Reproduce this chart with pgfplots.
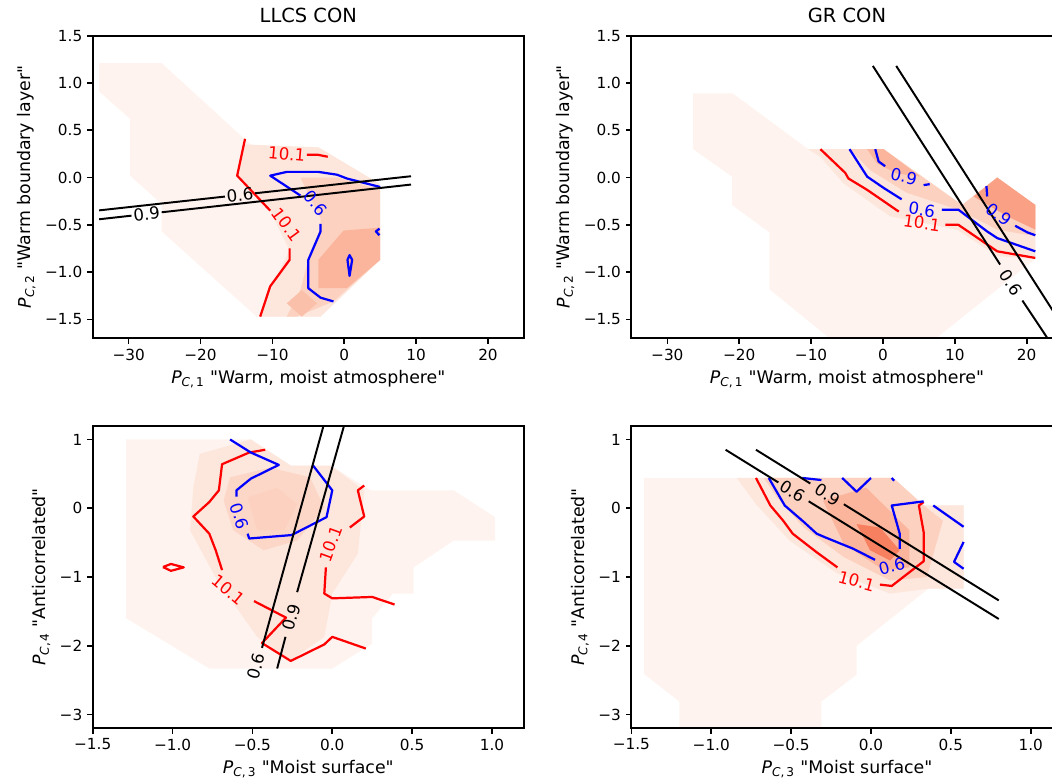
\documentclass[border=0pt]{standalone}
\usepackage{fontspec}
\setmainfont{DejaVu Sans}[Ligatures=TeXOff]
\usepackage{pgfplots}
\pgfplotsset{compat=1.18}

\definecolor{fa}{HTML}{FEF3EE}
\definecolor{fb}{HTML}{FDE6DB}
\definecolor{fc}{HTML}{FCD1BF}
\definecolor{fd}{HTML}{FBB59C}
\definecolor{fe}{HTML}{F9A085}
\definecolor{ff}{HTML}{F6805F}

\pgfplotsset{
  panel/.style={
    scale only axis, width=310.5pt, height=217.9pt, anchor=north west,
    axis on top, clip=true, enlargelimits=false,
    axis line style={line width=1.3pt},
    every tick/.style={line width=1.2pt, black},
    major tick length=4pt, tick align=outside, tick pos=left,
    ticklabel style={font=\fontsize{11}{13}\selectfont},
    label style={font=\fontsize{12.5}{15}\selectfont},
    title style={font=\fontsize{14}{17}\selectfont},
    /pgf/number format/assume math mode=true,
  },
  top/.style={
    xmin=-35, xmax=25, ymin=-1.7, ymax=1.5,
    xtick={-30,-20,-10,0,10,20}, xticklabels={−30,−20,−10,0,10,20},
    ytick={-1.5,-1,-0.5,0,0.5,1,1.5},
    yticklabels={−1.5,−1.0,−0.5,0.0,0.5,1.0,1.5},
    xlabel={\textit{P}\textsubscript{\textit{C},\,1} "Warm, moist atmosphere"},
    ylabel={\textit{P}\textsubscript{\textit{C},\,2} "Warm boundary layer"},
  },
  bot/.style={
    xmin=-1.5, xmax=1.2, ymin=-3.2, ymax=1.2,
    xtick={-1.5,-1,-0.5,0,0.5,1}, xticklabels={−1.5,−1.0,−0.5,0.0,0.5,1.0},
    ytick={-3,-2,-1,0,1}, yticklabels={−3,−2,−1,0,1},
    xlabel={\textit{P}\textsubscript{\textit{C},\,3} "Moist surface"},
    ylabel={\textit{P}\textsubscript{\textit{C},\,4} "Anticorrelated"},
  },
  cont/.style={line width=1.6pt, no markers, line join=round},
  blk/.style={line width=1.4pt, black, no markers},
}
\tikzset{lab/.style={font=\fontsize{12}{14}\selectfont, inner sep=0pt}}

\begin{document}
\begin{tikzpicture}

% ---- LLCS, PC1/PC2
\begin{axis}[panel, top, at={(66.74pt,-25.70pt)}, title={LLCS CON}]
\addplot[fill=fa, draw=none] coordinates {(-34.1,1.21) (-25.4,1.21) (-12.6,0.32) (-3.6,0.32) (5.0,-0.07) (5.0,-0.87) (-3.3,-1.47) (-12.2,-1.47) (-25.4,-0.57) (-25.4,-0.28) (-29.8,0.02) (-29.8,0.62) (-34.1,0.91)};
\addplot[fill=fb, draw=none] coordinates {(-13.8,0.35) (-3.6,0.32) (5.0,-0.07) (5.0,-0.87) (-3.3,-1.47) (-11.7,-1.47) (-9.4,-1.05) (-7.6,-0.77) (-10.3,-0.35) (-14.9,0.02)};
\addplot[fill=fc, draw=none] coordinates {(-6.1,0.0) (-1.0,0.0) (5.0,-0.13) (5.0,-0.87) (-1.5,-1.31) (-6.6,-1.47) (-8.0,-1.47) (-6.1,-1.19) (-5.0,-0.87) (-3.3,-0.54) (-3.3,-0.43)};
\addplot[fill=fd, draw=none] coordinates {(-3.6,-0.87) (-0.1,-0.56) (5.0,-0.53) (5.0,-0.87) (0.37,-1.17) (-3.6,-1.17)};
\addplot[fill=fd!60!fc, draw=none] coordinates {(-8.0,-1.33) (-5.9,-1.19) (-3.8,-1.33) (-5.9,-1.47)};
% contours
\addplot[red, cont] coordinates {(-13.8,0.41) (-14.9,0.02) (-10.3,-0.35)};
\addplot[red, cont] coordinates {(-7.6,-0.75) (-7.6,-0.87) (-10.3,-1.15) (-11.7,-1.47)};
\addplot[red, cont] coordinates {(-5.2,0.24) (-3.6,0.24) (-2.3,0.22)};
\addplot[blue, cont] coordinates {(5.0,-0.10) (0.37,-0.01) (-1.0,0.03) (-3.6,0.06) (-8.0,0.06) (-10.3,0.02) (-6.1,-0.19)};
\addplot[blue, cont] coordinates {(-3.3,-0.49) (-3.3,-0.57) (-5.0,-0.87) (-5.0,-1.17) (-3.3,-1.27) (-1.5,-1.31)};
\addplot[blue, cont] coordinates {(0.45,-0.87) (0.74,-0.82) (1.1,-0.87) (0.74,-1.04) (0.45,-0.87)};
\addplot[blue, cont] coordinates {(4.9,-0.54) (4.4,-0.57) (4.9,-0.61)};
% black lines
\addplot[blk] coordinates {(-34.1,-0.347) (-16.6,-0.201)};
\addplot[blk] coordinates {(-12.4,-0.166) (9.29,0.014)};
\addplot[blk] coordinates {(-34.1,-0.441) (-29.6,-0.403)};
\addplot[blk] coordinates {(-25.4,-0.367) (9.29,-0.074)};
\node[lab, red, rotate=-5] at (axis cs:-8.0,0.25) {10.1};
\node[lab, red, rotate=-54] at (axis cs:-8.0,-0.50) {10.1};
\node[lab, blue, rotate=-50] at (axis cs:-4.0,-0.27) {0.6};
\node[lab, rotate=6] at (axis cs:-14.5,-0.184) {0.6};
\node[lab, rotate=6] at (axis cs:-27.5,-0.385) {0.9};
\end{axis}

% ---- GR, PC1/PC2
\begin{axis}[panel, top, at={(454.6pt,-25.70pt)}, title={GR CON}]
\addplot[fill=fa, draw=none] coordinates {(-26.4,0.89) (-20.9,0.89) (-10.4,0.30) (0.1,0.30) (11.0,-0.29) (15.9,0.0) (21.2,-0.29) (21.2,-0.86) (7.05,-1.72) (-7.1,-1.72) (-15.8,-1.18) (-15.8,-0.58) (-21.0,-0.29) (-21.0,0.01) (-26.4,0.30)};
\addplot[fill=fb, draw=none] coordinates {(-10.4,0.30) (0.1,0.30) (11.0,-0.29) (15.9,0.0) (21.2,-0.29) (21.2,-0.86) (15.9,-0.83) (10.3,-0.55) (1.0,-0.41) (-5.5,-0.06) (-8.7,0.22)};
\addplot[fill=fc, draw=none] coordinates {(-4.6,0.30) (0.1,0.30) (11.0,-0.29) (15.9,0.0) (21.2,-0.29) (21.2,-0.62) (15.9,-0.55) (10.5,-0.34) (3.3,-0.16) (-1.8,0.08)};
\addplot[fill=fd, draw=none] coordinates {(-2.2,0.30) (0.1,0.30) (5.2,0.01) (1.95,0.044) (-0.84,0.15)};
\addplot[fill=fe, draw=none] coordinates {(12.6,-0.20) (15.9,0.0) (21.2,-0.29) (21.2,-0.55) (17.3,-0.41)};
% contours
\addplot[red, cont] coordinates {(-8.7,0.30) (-5.25,0.05) (-4.8,-0.01) (-2.2,-0.13) (0.1,-0.25) (2.2,-0.36)};
\addplot[red, cont] coordinates {(8.7,-0.50) (10.5,-0.50) (15.9,-0.78) (21.2,-0.85)};
\addplot[blue, cont] coordinates {(-4.65,0.30) (-2.2,0.01) (0.1,-0.11) (2.6,-0.23)};
\addplot[blue, cont] coordinates {(8.2,-0.34) (10.5,-0.34) (14.5,-0.57) (15.9,-0.64) (21.2,-0.78)};
\addplot[blue, cont] coordinates {(-1.07,0.30) (-0.6,0.17) (0.3,0.12)};
\addplot[blue, cont] coordinates {(5.65,-0.08) (6.5,-0.07)};
\addplot[blue, cont] coordinates {(14.4,-0.09) (14.5,-0.20)};
\addplot[blue, cont] coordinates {(18.4,-0.51) (20.1,-0.58) (21.2,-0.61)};
% black lines
\addplot[blk] coordinates {(-1.4,1.18) (16.3,-0.92)};
\addplot[blk] coordinates {(19.4,-1.30) (22.9,-1.70)};
\addplot[blk] coordinates {(1.85,1.18) (26.1,-1.70)};
\node[lab, red, rotate=-8] at (axis cs:5.4,-0.48) {10.1};
\node[lab, blue, rotate=-8] at (axis cs:5.4,-0.34) {0.6};
\node[lab, blue, rotate=-12] at (axis cs:2.9,0.01) {0.9};
\node[lab, blue, rotate=-38] at (axis cs:16.1,-0.39) {0.9};
\node[lab, rotate=-57] at (axis cs:17.85,-1.11) {0.6};
\end{axis}

% ---- LLCS, PC3/PC4
\begin{axis}[panel, bot, at={(66.74pt,-306.5pt)}]
\addplot[fill=fa, draw=none] coordinates {(-1.29,1.0) (-0.51,1.0) (-0.26,0.62) (-0.01,0.62) (0.24,0.26) (0.76,0.26) (1.02,-0.13) (1.02,-0.47) (0.76,-0.47) (0.51,-0.86) (0.51,-1.24) (0.38,-1.24) (0.25,-1.60) (0.25,-1.97) (0.0,-2.33) (-0.77,-2.33) (-1.29,-1.60)};
\addplot[fill=fb, draw=none] coordinates {(-0.83,0.79) (-0.51,1.0) (-0.26,0.62) (-0.01,0.62) (0.20,0.26) (0.16,-0.66) (0.0,-1.24) (-0.05,-1.87) (-0.26,-2.21) (-0.47,-1.87) (-0.72,-1.05) (-0.89,-0.32) (-0.87,0.30)};
\addplot[fill=fc!70!fb, draw=none] coordinates {(-0.64,0.45) (-0.39,0.59) (-0.14,0.45) (-0.05,0.01) (-0.22,-0.47) (-0.43,-0.61) (-0.62,-0.32) (-0.68,0.11)};
\addplot[fill=fc, draw=none] coordinates {(-0.53,0.16) (-0.345,0.30) (-0.22,0.06) (-0.30,-0.32) (-0.47,-0.32)};
% contours
\addplot[red, cont] coordinates {(-0.42,0.85) (-0.52,0.81) (-0.69,0.64) (-0.71,0.26) (-0.77,0.09) (-0.87,-0.12) (-0.77,-0.37) (-0.73,-0.61) (-0.69,-0.90)};
\addplot[red, cont] coordinates {(-0.49,-1.35) (-0.29,-1.59) (-0.44,-1.96) (-0.26,-2.22) (-0.05,-1.98) (0.0,-1.87) (0.21,-2.04)};
\addplot[red, cont] coordinates {(0.20,0.33) (0.16,0.26) (0.20,-0.12) (0.11,-0.28)};
\addplot[red, cont] coordinates {(-0.04,-0.86) (-0.05,-1.24) (0.0,-1.31) (0.25,-1.29) (0.39,-1.40)};
\addplot[red, cont] coordinates {(-1.06,-0.855) (-1.01,-0.81) (-0.93,-0.86) (-1.01,-0.91) (-1.06,-0.855)};
\addplot[blue, cont] coordinates {(-0.64,1.0) (-0.51,0.81) (-0.335,0.63) (-0.51,0.43) (-0.60,0.26) (-0.60,0.17)};
\addplot[blue, cont] coordinates {(-0.53,-0.37) (-0.52,-0.44) (-0.255,-0.39) (-0.036,-0.13) (0.0,0.26) (-0.12,0.62)};
% black lines
\addplot[blk] coordinates {(-0.019,1.5) (-0.44,-2.03)};
\addplot[blk] coordinates {(0.11,1.5) (-0.22,-1.22)};
\addplot[blk] coordinates {(-0.293,-1.87) (-0.345,-2.33)};
\node[lab, red, rotate=-40] at (axis cs:-0.65,-1.19) {10.1};
\node[lab, red, rotate=70] at (axis cs:-0.01,-0.52) {10.1};
\node[lab, blue, rotate=-72] at (axis cs:-0.58,-0.11) {0.6};
\node[lab, rotate=75] at (axis cs:-0.477,-2.30) {0.6};
\node[lab, rotate=75] at (axis cs:-0.255,-1.59) {0.9};
\end{axis}

% ---- GR, PC3/PC4
\begin{axis}[panel, bot, at={(454.6pt,-306.5pt)}]
\addplot[fill=fa, draw=none] coordinates {(-1.42,0.44) (0.14,0.44) (0.33,0.04) (0.58,0.04) (0.58,-1.17) (0.36,-1.17) (-0.09,-2.0) (-0.09,-2.42) (-0.31,-2.81) (-0.31,-3.3) (-1.20,-3.3) (-1.20,-2.81) (-1.42,-2.41)};
\addplot[fill=fb, draw=none] coordinates {(-0.84,0.44) (0.14,0.44) (0.33,0.04) (0.58,0.04) (0.58,-1.17) (0.36,-1.17) (0.12,-1.24) (-0.21,-0.95) (-0.51,-0.47) (-0.72,0.06)};
\addplot[fill=fc, draw=none] coordinates {(-0.67,0.44) (0.14,0.44) (0.33,0.04) (0.45,-0.18) (0.35,-1.0) (0.12,-1.05) (-0.17,-0.71) (-0.42,-0.28) (-0.59,0.16)};
\addplot[fill=fd, draw=none] coordinates {(-0.30,0.11) (-0.03,0.30) (0.24,-0.32) (0.24,-0.86) (0.08,-0.90) (-0.17,-0.52)};
\addplot[fill=ff, draw=none] coordinates {(-0.09,-0.23) (0.056,-0.28) (0.18,-0.61) (0.12,-0.76) (-0.006,-0.61)};
% contours
\addplot[red, cont] coordinates {(-0.72,0.44) (-0.63,0.04) (-0.55,-0.18) (-0.49,-0.37) (-0.34,-0.64) (-0.21,-0.86)};
\addplot[red, cont] coordinates {(0.056,-1.11) (0.13,-1.13) (0.33,-0.77) (0.33,-0.35) (0.30,0.04) (0.33,0.09)};
\addplot[blue, cont] coordinates {(-0.64,0.44) (-0.54,0.04) (-0.42,-0.20) (-0.34,-0.37) (-0.29,-0.42) (-0.11,-0.59) (0.025,-0.75)};
\addplot[blue, cont] coordinates {(0.18,-0.59) (0.18,-0.37) (0.13,0.04) (0.33,0.10)};
\addplot[blue, cont] coordinates {(0.39,0.04) (0.58,-0.27)};
\addplot[blue, cont] coordinates {(0.58,-0.49) (0.52,-0.78) (0.58,-0.88)};
\addplot[blue, cont] coordinates {(-0.43,0.44) (-0.31,0.41)};
\addplot[blue, cont] coordinates {(-0.18,0.44) (-0.09,0.24) (0.0,0.44)};
\addplot[blue, cont] coordinates {(0.13,0.44) (0.145,0.40)};
% black lines
\addplot[blk] coordinates {(-0.91,0.85) (-0.58,0.375)};
\addplot[blk] coordinates {(-0.39,0.101) (0.80,-1.61)};
\addplot[blk] coordinates {(-0.72,0.85) (-0.38,0.36)};
\addplot[blk] coordinates {(-0.17,0.058) (0.80,-1.34)};
\node[lab, red, rotate=-15] at (axis cs:-0.09,-1.06) {10.1};
\node[lab, blue, rotate=15] at (axis cs:0.13,-0.84) {0.6};
\node[lab, rotate=-32] at (axis cs:-0.49,0.245) {0.6};
\node[lab, rotate=-32] at (axis cs:-0.27,0.20) {0.9};
\end{axis}

\pgfresetboundingbox
\path[use as bounding box] (0,0) rectangle (757.44pt,-564.48pt);
\end{tikzpicture}
\end{document}
